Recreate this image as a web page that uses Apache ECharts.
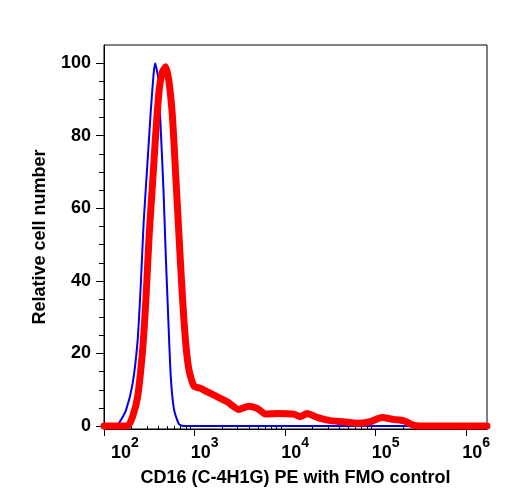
<!DOCTYPE html>
<html>
<head>
<meta charset="utf-8">
<script src="https://cdn.jsdelivr.net/npm/echarts@6/dist/echarts.min.js"></script>
<style>
  html, body { margin: 0; padding: 0; background: #fff; }
  #chart { width: 508px; height: 500px; }
</style>
</head>
<body>
<div id="chart"></div>
<script>
  // FMO control (blue, thin)
  const fmoX = [100, 135, 146, 175, 207, 235, 255, 274, 303, 329, 353, 367, 396, 424, 454, 482, 516, 547, 595, 675, 766, 1700000];
  const fmoY = [0, 0, 0.8, 4.4, 11.7, 23.5, 39, 56, 73, 87, 97, 100, 96, 81.5, 65, 46.5, 28, 13.4, 4.4, 0.5, 0, 0];

  // CD16 PE stained (red, thick)
  const cd16X = [100, 182, 207, 235, 267, 290, 316, 344, 374, 407, 443, 482, 524, 571, 621, 675, 736, 800, 869, 987, 1169, 1387, 1711, 2300, 3090, 3981, 4929, 6085, 8185, 12470, 14790, 17510, 22590, 31620, 44290, 62190, 87100, 117200, 157400, 202800, 261400, 337300, 1700000];
  const cd16Y = [0, 0, 2.6, 8, 21, 34.7, 53, 67, 81, 92.6, 97.7, 99, 94.6, 85, 68.7, 52, 35.4, 22.8, 15.4, 11, 10.4, 9.4, 8.3, 6.7, 4.6, 5.5, 4.9, 3.3, 3.5, 3.3, 2.6, 3.5, 2.4, 1.5, 1.2, 0.75, 1.2, 2.4, 1.85, 1.5, 0.3, 0, 0];

  const xMajor = [100, 1000, 10000, 100000, 1000000];
  const yMajor = [0, 20, 40, 60, 80, 100];
  const yMinor = [5, 10, 15, 25, 30, 35, 45, 50, 55, 65, 70, 75, 85, 90, 95];

  const xMinor = [];
  xMajor.forEach((d) => {
    for (let k = 2; k <= 9; k++) {
      if (d * k < 1700000) xMinor.push(d * k);
    }
  });

  const pairs = (xs, ys) => xs.map((x, i) => [x, ys[i]]);

  const chart = echarts.init(document.getElementById('chart'), null, { renderer: 'canvas' });
  const font = 'Liberation Sans, Arial, Helvetica, sans-serif';

  const option = {
    animation: false,
    grid: {
      left: 104,
      top: 45,
      right: 21,
      bottom: 71,
      show: true,
      borderColor: '#000',
      borderWidth: 1,
      backgroundColor: 'transparent'
    },
    xAxis: [
      {
        type: 'log',
        min: 100,
        max: 1700000,
        name: 'CD16 (C-4H1G) PE with FMO control',
        nameLocation: 'middle',
        nameGap: 40,
        nameTextStyle: { fontFamily: font, fontSize: 18, fontWeight: 'bold', color: '#000' },
        axisLine: { show: true, onZero: false, lineStyle: { color: '#000', width: 1 } },
        axisTick: { show: true, length: 7, customValues: xMajor, lineStyle: { color: '#000', width: 1 } },
        splitLine: { show: false },
        axisLabel: {
          customValues: xMajor,
          margin: 7,
          color: '#000',
          formatter(v) {
            const e = Math.round(Math.log10(v));
            const sp = e === 2 ? 'f' : 's';
            return '{' + sp + '| }{b|10}{e|' + e + '}';
          },
          rich: {
            s: { width: 20, fontSize: 10 },
            f: { width: 42, fontSize: 10 },
            b: { fontFamily: font, fontSize: 18, fontWeight: 'bold', color: '#000', lineHeight: 26, verticalAlign: 'bottom' },
            e: { fontFamily: font, fontSize: 14, fontWeight: 'bold', color: '#000', lineHeight: 6, verticalAlign: 'top' }
          }
        }
      },
      {
        type: 'log',
        min: 100,
        max: 1700000,
        position: 'bottom',
        axisLine: { show: false },
        axisTick: { show: true, length: 4, customValues: xMinor, lineStyle: { color: '#000', width: 1 } },
        axisLabel: { show: false },
        splitLine: { show: false }
      }
    ],
    yAxis: [
      {
        type: 'value',
        min: -0.8,
        max: 105,
        name: 'Relative cell number',
        nameLocation: 'middle',
        nameGap: 55,
        nameTextStyle: { fontFamily: font, fontSize: 18, fontWeight: 'bold', color: '#000' },
        axisLine: { show: true, onZero: false, lineStyle: { color: '#000', width: 1 } },
        axisTick: { show: true, length: 8, customValues: yMajor, lineStyle: { color: '#000', width: 1 } },
        splitLine: { show: false },
        axisLabel: {
          customValues: yMajor,
          margin: 13,
          fontFamily: font,
          fontSize: 18,
          fontWeight: 'bold',
          color: '#000'
        }
      },
      {
        type: 'value',
        min: -0.8,
        max: 105,
        position: 'left',
        axisLine: { show: false },
        axisTick: { show: true, length: 5, customValues: yMinor, lineStyle: { color: '#000', width: 1 } },
        axisLabel: { show: false },
        splitLine: { show: false }
      }
    ],
    series: [
      {
        name: 'FMO control',
        type: 'line',
        data: pairs(fmoX, fmoY),
        showSymbol: false,
        smooth: 0.2,
        lineStyle: { color: '#0000f0', width: 2 },
        z: 2
      },
      {
        name: 'CD16 PE',
        type: 'line',
        data: pairs(cd16X, cd16Y),
        showSymbol: false,
        smooth: 0.2,
        lineStyle: { color: '#ff0000', width: 7, join: 'round', cap: 'round' },
        z: 3
      }
    ]
  };

  chart.setOption(option);
</script>
</body>
</html>
